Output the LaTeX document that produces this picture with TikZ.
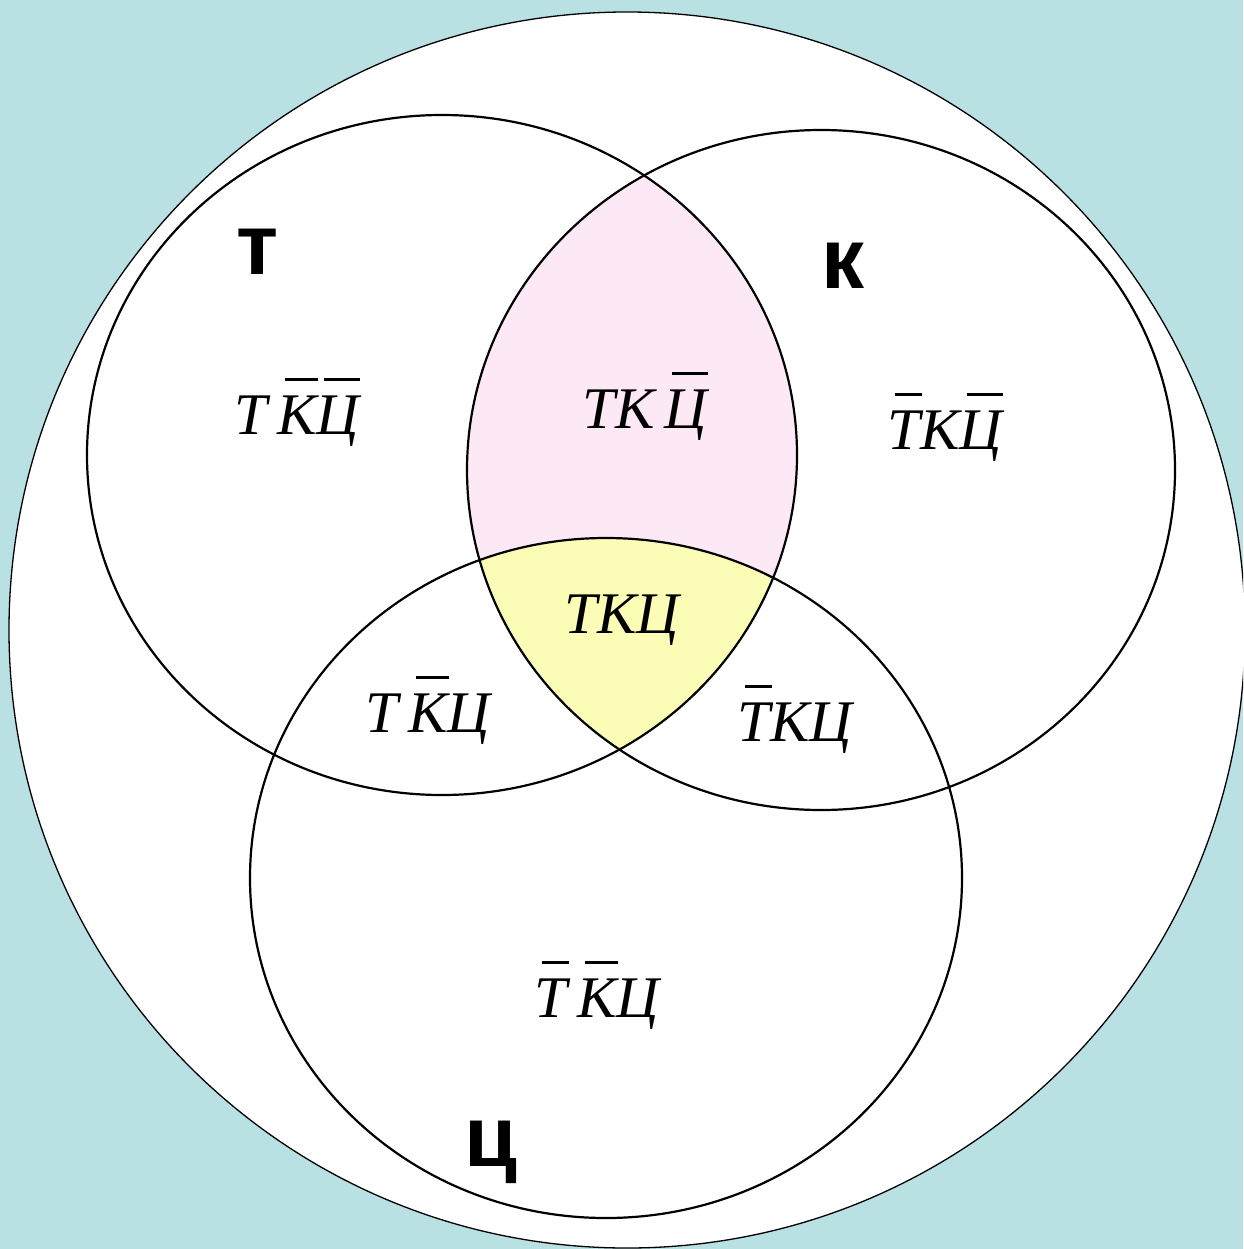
\documentclass[tikz,border=0pt]{standalone}
\usepackage{fontspec}
\setmainfont{Liberation Serif}
\newfontfamily\labfont{Liberation Sans}
\definecolor{bgblue}{HTML}{B9E0E3}
\definecolor{pinkfill}{HTML}{FDE9F5}
\definecolor{yellowfill}{HTML}{FBFCB6}
\newsavebox\obbox
\newcommand\ob[1]{\sbox\obbox{#1}\rlap{\hspace{0.12em}\rule[0.9em]{\dimexpr\wd\obbox-0.1em\relax}{3pt}}\usebox\obbox}
\begin{document}
\begin{tikzpicture}[x=1pt,y=-1pt,
  setline/.style={draw=black,line width=2.2pt},
  region/.style={font=\itshape\fontsize{59}{59}\selectfont,inner sep=0pt},
  setname/.style={font=\labfont\bfseries\fontsize{86}{86}\selectfont,inner sep=0pt}]
\useasboundingbox (0,0) rectangle (1243,1249);
\fill[bgblue] (0,0) rectangle (1243,1249);
\begin{scope}
\clip (0,0) rectangle (1243,1249);
\fill[white] (627,630) circle (618);
\draw[black,line width=1.3pt] (627,630) circle (618);
\end{scope}
\coordinate (cT) at (442,455);
\coordinate (cK) at (821,470);
\coordinate (cC) at (606,878);
% pink T and K
\begin{scope}
\clip (cT) ellipse [x radius=355,y radius=340];
\fill[pinkfill] (cK) ellipse [x radius=354,y radius=340];
\end{scope}
% yellow T, K and C
\begin{scope}
\clip (cT) ellipse [x radius=355,y radius=340];
\clip (cK) ellipse [x radius=354,y radius=340];
\fill[yellowfill] (cC) ellipse [x radius=356,y radius=340];
\end{scope}
\draw[setline] (cT) ellipse [x radius=355,y radius=340];
\draw[setline] (cK) ellipse [x radius=354,y radius=340];
\draw[setline] (cC) ellipse [x radius=356,y radius=340];
% set names
\node[setname] (nT) at (258,252) {т};
\node[setname] (nK) at (843,266) {к};
\node[setname] (nC) at (491,1152) {ц};
% region labels
\node[region] (r1) at (297,412) {Т\,\ob{К}\ob{Ц}};
\node[region] (r2) at (645,406) {ТК\,\ob{Ц}};
\node[region] (r3) at (945,427) {\ob{Т}К\ob{Ц}};
\node[region] (r4) at (622,620) {ТКЦ};
\node[region] (r5) at (428,710) {Т\,\ob{К}Ц};
\node[region] (r6) at (795,719) {\ob{Т}КЦ};
\node[region] (r7) at (597,995) {\ob{Т}\,\ob{К}Ц};
\end{tikzpicture}
\end{document}
